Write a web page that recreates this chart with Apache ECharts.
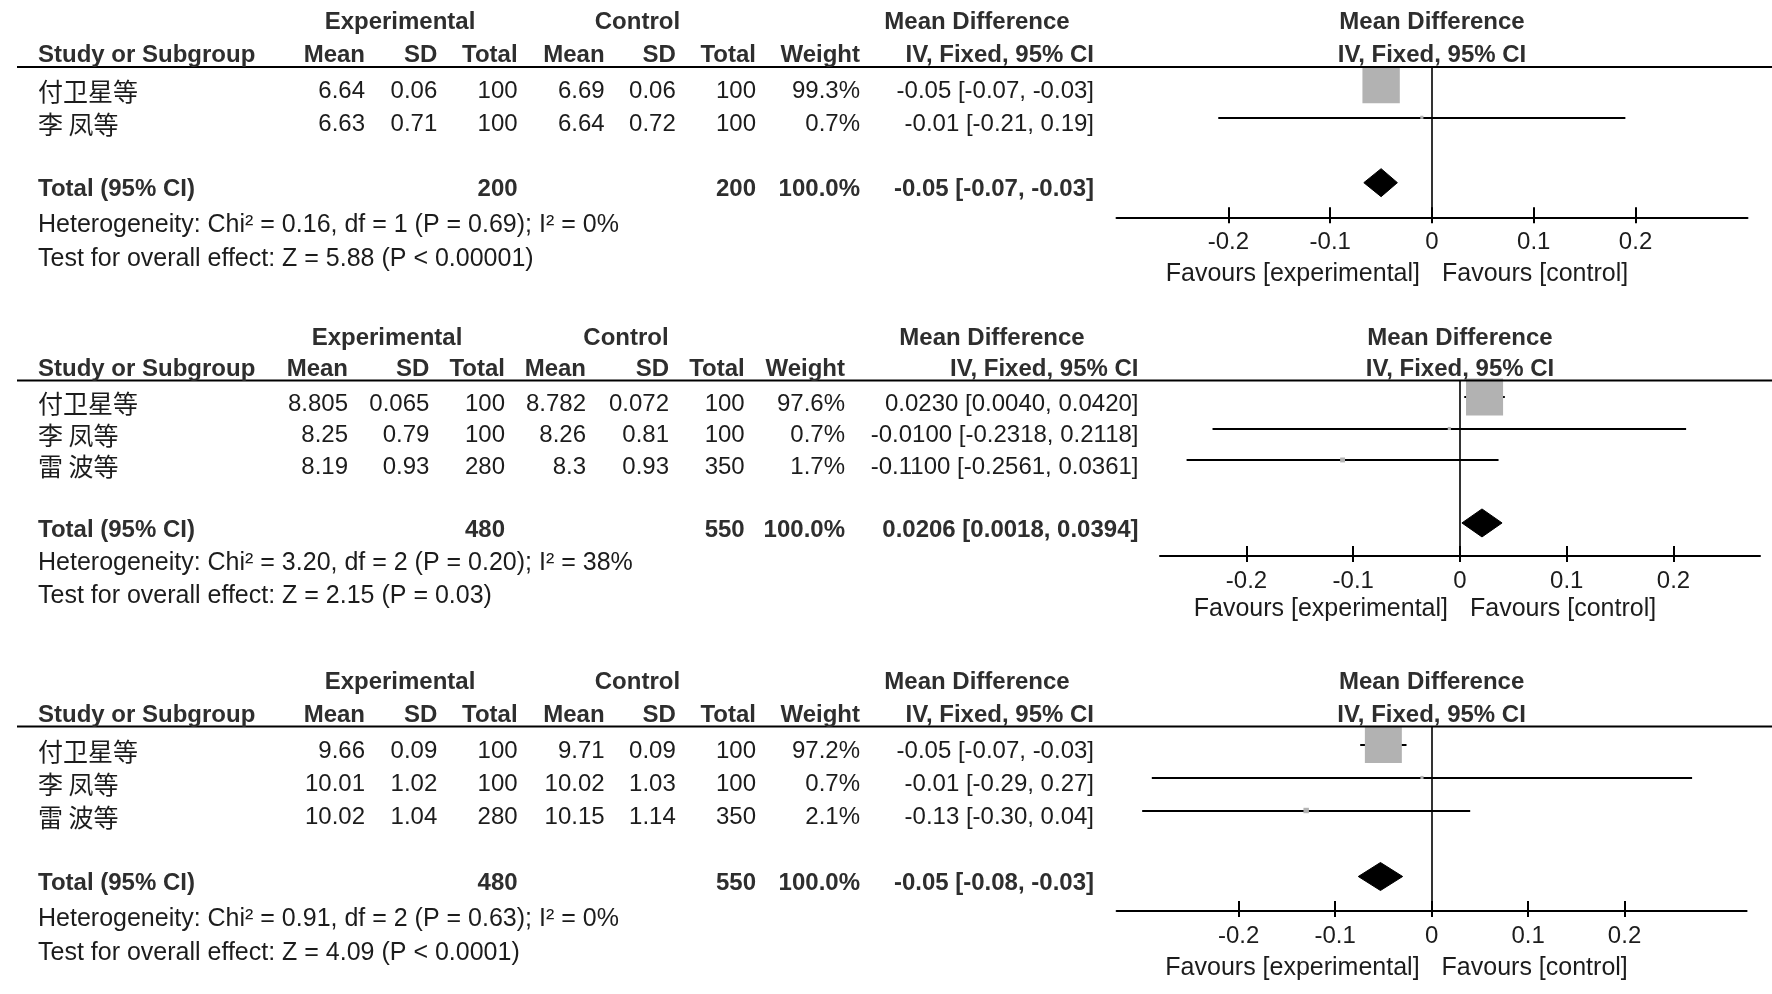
<!DOCTYPE html>
<html>
<head>
<meta charset="utf-8">
<script src="https://cdn.jsdelivr.net/npm/echarts@6/dist/echarts.min.js"></script>
<style>html,body{margin:0;padding:0;background:#fff}#c{width:1772px;height:994px}</style>
</head>
<body>
<div id="c"></div>
<script>
// ---------------- DATA ----------------
const studyNames = ['付卫星等', '李 凤等', '雷 波等'];
const axisTicks = [-0.2, -0.1, 0, 0.1, 0.2];
const headerTop = ['Experimental', 'Control', 'Mean Difference', 'Mean Difference'];
const headerCols = ['Mean', 'SD', 'Total', 'Mean', 'SD', 'Total', 'Weight', 'IV, Fixed, 95% CI'];
const plotHeader = 'IV, Fixed, 95% CI';
const totalLabel = 'Total (95% CI)';
const favours = ['Favours [experimental]', 'Favours [control]'];

// Panel 1
const p1ExpMean = [6.64, 6.63];
const p1ExpSD = [0.06, 0.71];
const p1ExpN = [100, 100];
const p1CtlMean = [6.69, 6.64];
const p1CtlSD = [0.06, 0.72];
const p1CtlN = [100, 100];
const p1Weight = [99.3, 0.7];
const p1MD = [-0.05, -0.01];
const p1Lo = [-0.067, -0.21];
const p1Hi = [-0.033, 0.19];
const p1Pooled = [-0.05, -0.067, -0.034];
const p1Totals = [200, 200];
const p1Het = 'Heterogeneity: Chi² = 0.16, df = 1 (P = 0.69); I² = 0%';
const p1Test = 'Test for overall effect: Z = 5.88 (P < 0.00001)';

// Panel 2
const p2ExpMean = [8.805, 8.25, 8.19];
const p2ExpSD = [0.065, 0.79, 0.93];
const p2ExpN = [100, 100, 280];
const p2CtlMean = [8.782, 8.26, 8.3];
const p2CtlSD = [0.072, 0.81, 0.93];
const p2CtlN = [100, 100, 350];
const p2Weight = [97.6, 0.7, 1.7];
const p2MD = [0.023, -0.01, -0.11];
const p2Lo = [0.004, -0.2318, -0.2561];
const p2Hi = [0.042, 0.2118, 0.0361];
const p2Pooled = [0.0206, 0.0018, 0.0394];
const p2Totals = [480, 550];
const p2Het = 'Heterogeneity: Chi² = 3.20, df = 2 (P = 0.20); I² = 38%';
const p2Test = 'Test for overall effect: Z = 2.15 (P = 0.03)';

// Panel 3
const p3ExpMean = [9.66, 10.01, 10.02];
const p3ExpSD = [0.09, 1.02, 1.04];
const p3ExpN = [100, 100, 280];
const p3CtlMean = [9.71, 10.02, 10.15];
const p3CtlSD = [0.09, 1.03, 1.14];
const p3CtlN = [100, 100, 350];
const p3Weight = [97.2, 0.7, 2.1];
const p3MD = [-0.05, -0.01, -0.13];
const p3Lo = [-0.074, -0.29, -0.30];
const p3Hi = [-0.026, 0.27, 0.04];
const p3Pooled = [-0.053, -0.076, -0.03];
const p3Totals = [480, 550];
const p3Het = 'Heterogeneity: Chi² = 0.91, df = 2 (P = 0.63); I² = 0%';
const p3Test = 'Test for overall effect: Z = 4.09 (P < 0.0001)';

// ---------------- LAYOUT ----------------
const panels = [
  {n: 2, expMean: p1ExpMean, expSD: p1ExpSD, expN: p1ExpN, ctlMean: p1CtlMean, ctlSD: p1CtlSD, ctlN: p1CtlN,
   weight: p1Weight, md: p1MD, lo: p1Lo, hi: p1Hi, pooled: p1Pooled, totals: p1Totals, het: p1Het, test: p1Test, dec: 2,
   L: {left: 1116.5, width: 631, top: 67, bottom: 217.3, range: 0.31, yMin: -0.54, yMax: 4.06, totalIdx: 3,
       cols: [365, 437.3, 517.6, 604.6, 675.8, 756, 860, 1094], h1: [400, 637.4, 977], h1y: 22, h2y: 55,
       hetY: 225.5, testY: 259.5, favY: 274.5}},
  {n: 3, expMean: p2ExpMean, expSD: p2ExpSD, expN: p2ExpN, ctlMean: p2CtlMean, ctlSD: p2CtlSD, ctlN: p2CtlN,
   weight: p2Weight, md: p2MD, lo: p2Lo, hi: p2Hi, pooled: p2Pooled, totals: p2Totals, het: p2Het, test: p2Test, dec: 4,
   L: {left: 1160, width: 600, top: 380.5, bottom: 556, range: 0.281, yMin: -0.524, yMax: 5.05, totalIdx: 4,
       cols: [348, 429.4, 505, 586, 669, 744.7, 845, 1138.5], h1: [387, 626, 992], h1y: 338, h2y: 369.5,
       hetY: 563.5, testY: 596.5, favY: 609.5}},
  {n: 3, expMean: p3ExpMean, expSD: p3ExpSD, expN: p3ExpN, ctlMean: p3CtlMean, ctlSD: p3CtlSD, ctlN: p3CtlN,
   weight: p3Weight, md: p3MD, lo: p3Lo, hi: p3Hi, pooled: p3Pooled, totals: p3Totals, het: p3Het, test: p3Test, dec: 2,
   L: {left: 1116.6, width: 630, top: 726.5, bottom: 911, range: 0.3265, yMin: -0.545, yMax: 5.045, totalIdx: 4,
       cols: [365, 437.3, 517.6, 604.6, 675.8, 756, 860, 1094], h1: [400, 637.4, 977], h1y: 682, h2y: 715,
       hetY: 919.5, testY: 953.5, favY: 968.5}}
];

const FONT = '"Liberation Sans", Arial, sans-serif';
const CJK = '"Noto Sans CJK SC", sans-serif';
const TXT = '#1c1c1c';
const BOLD = '#2e2e2e';

const chart = echarts.init(document.getElementById('c'), null, {renderer: 'canvas'});

const grids = [], xAxes = [], yAxes = [], series = [];
panels.forEach(function (P, k) {
  const L = P.L;
  grids.push({left: L.left, top: L.top, width: L.width, height: L.bottom - L.top, outerBoundsMode: 'none', containLabel: false});
  xAxes.push({
    type: 'value', gridIndex: k, min: -L.range, max: L.range, position: 'bottom',
    axisLine: {show: true, onZero: false, lineStyle: {color: '#000', width: 2}},
    axisTick: {show: true, inside: true, length: 10, customValues: axisTicks, lineStyle: {color: '#000', width: 2}},
    axisLabel: {show: true, customValues: axisTicks, margin: 13, fontSize: 24, fontFamily: FONT, color: TXT},
    splitLine: {show: false}
  });
  xAxes.push({
    type: 'value', gridIndex: k, min: -L.range, max: L.range, position: 'bottom',
    axisLine: {show: false, onZero: false},
    axisTick: {show: true, inside: false, length: 6, customValues: axisTicks, lineStyle: {color: '#000', width: 2}},
    axisLabel: {show: false}, splitLine: {show: false}
  });
  yAxes.push({type: 'value', gridIndex: k, min: L.yMin, max: L.yMax, inverse: true, show: false,
    axisLine: {onZero: false}, splitLine: {show: false}});

  const xi = 2 * k, yi = k;
  // zero line
  series.push({
    type: 'lines', coordinateSystem: 'cartesian2d', xAxisIndex: xi, yAxisIndex: yi, silent: true, z: 1,
    lineStyle: {color: '#000', width: 1.6, opacity: 1},
    data: [{coords: [[0, L.yMin], [0, L.yMax]]}]
  });
  // CI lines
  const ci = [];
  for (let i = 0; i < P.n; i++) ci.push({coords: [[P.lo[i], i], [P.hi[i], i]]});
  series.push({
    type: 'lines', coordinateSystem: 'cartesian2d', xAxisIndex: xi, yAxisIndex: yi, silent: true, z: 2,
    lineStyle: {color: '#000', width: 2, opacity: 1}, data: ci
  });
  // squares
  const sq = [];
  for (let i = 0; i < P.n; i++) sq.push([P.md[i], i, P.weight[i]]);
  series.push({
    type: 'scatter', xAxisIndex: xi, yAxisIndex: yi, silent: true, z: 3, symbol: 'rect',
    symbolSize: function (v) { return Math.max(2.5, 37.5 * Math.sqrt(v[2] / 100)); },
    itemStyle: {color: '#b2b2b2', opacity: 1}, data: sq, animation: false
  });
  // diamond
  series.push({
    type: 'custom', xAxisIndex: xi, yAxisIndex: yi, silent: true, z: 4,
    encode: {x: [0, 1, 2], y: 3},
    data: [[P.pooled[0], P.pooled[1], P.pooled[2], L.totalIdx]],
    renderItem: function (params, api) {
      const y = api.value(3);
      const pl = api.coord([api.value(1), y]);
      const pm = api.coord([api.value(0), y]);
      const pr = api.coord([api.value(2), y]);
      const h = 14;
      return {type: 'polygon', shape: {points: [[pl[0], pl[1]], [pm[0], pm[1] - h], [pr[0], pr[1]], [pm[0], pm[1] + h]]},
        style: {fill: '#000', stroke: '#000', lineWidth: 1}};
    }
  });
});

chart.setOption({
  animation: false,
  backgroundColor: '#fff',
  grid: grids, xAxis: xAxes, yAxis: yAxes, series: series
});

// ---------------- TABLE TEXT ----------------
function txt(x, y, text, opt) {
  return {type: 'text', x: x, y: y, silent: true, z: 10,
    style: Object.assign({text: text, fontSize: 24, fontFamily: FONT, fill: TXT, align: 'left', verticalAlign: 'middle'}, opt || {})};
}
const B = {fontWeight: 'bold', fill: BOLD};
const g = [];
panels.forEach(function (P, k) {
  const L = P.L;
  const finder = {xAxisIndex: 2 * k, yAxisIndex: k};
  const zeroX = chart.convertToPixel(finder, [0, 0])[0];
  const rowY = function (i) { return chart.convertToPixel(finder, [0, i])[1] + 7; };
  const topY = chart.convertToPixel(finder, [0, L.yMin])[1];
  // headers
  g.push(txt(L.h1[0], L.h1y, headerTop[0], Object.assign({align: 'center'}, B)));
  g.push(txt(L.h1[1], L.h1y, headerTop[1], Object.assign({align: 'center'}, B)));
  g.push(txt(L.h1[2], L.h1y, headerTop[2], Object.assign({align: 'center'}, B)));
  g.push(txt(zeroX, L.h1y, headerTop[3], Object.assign({align: 'center'}, B)));
  g.push(txt(38, L.h2y, 'Study or Subgroup', B));
  headerCols.forEach(function (h, c) { g.push(txt(L.cols[c], L.h2y, h, Object.assign({align: 'right'}, B))); });
  g.push(txt(zeroX, L.h2y, plotHeader, Object.assign({align: 'center'}, B)));
  g.push({type: 'line', silent: true, z: 9, shape: {x1: 17, y1: topY, x2: 1772, y2: topY}, style: {stroke: '#000', lineWidth: 2}});
  // study rows
  for (let i = 0; i < P.n; i++) {
    const y = rowY(i);
    g.push(txt(38, y, studyNames[i], {fontFamily: CJK, fontSize: 25}));
    const vals = [String(P.expMean[i]), String(P.expSD[i]), String(P.expN[i]), String(P.ctlMean[i]), String(P.ctlSD[i]), String(P.ctlN[i]),
      P.weight[i].toFixed(1) + '%',
      P.md[i].toFixed(P.dec) + ' [' + P.lo[i].toFixed(P.dec) + ', ' + P.hi[i].toFixed(P.dec) + ']'];
    vals.forEach(function (v, c) { g.push(txt(L.cols[c], y, v, {align: 'right'})); });
  }
  // total row
  const ty = rowY(L.totalIdx);
  const wSum = P.weight.reduce(function (a, b) { return a + b; }, 0);
  g.push(txt(38, ty, totalLabel, B));
  g.push(txt(L.cols[2], ty, String(P.totals[0]), Object.assign({align: 'right'}, B)));
  g.push(txt(L.cols[5], ty, String(P.totals[1]), Object.assign({align: 'right'}, B)));
  g.push(txt(L.cols[6], ty, wSum.toFixed(1) + '%', Object.assign({align: 'right'}, B)));
  g.push(txt(L.cols[7], ty, P.pooled[0].toFixed(P.dec) + ' [' + P.pooled[1].toFixed(P.dec) + ', ' + P.pooled[2].toFixed(P.dec) + ']', Object.assign({align: 'right'}, B)));
  // footer
  g.push(txt(38, L.hetY, P.het, {fontSize: 25}));
  g.push(txt(38, L.testY, P.test, {fontSize: 25}));
  g.push(txt(zeroX - 12, L.favY, favours[0], {align: 'right', fontSize: 25}));
  g.push(txt(zeroX + 10, L.favY, favours[1], {align: 'left', fontSize: 25}));
});
chart.setOption({graphic: {elements: g}});
</script>
</body>
</html>
